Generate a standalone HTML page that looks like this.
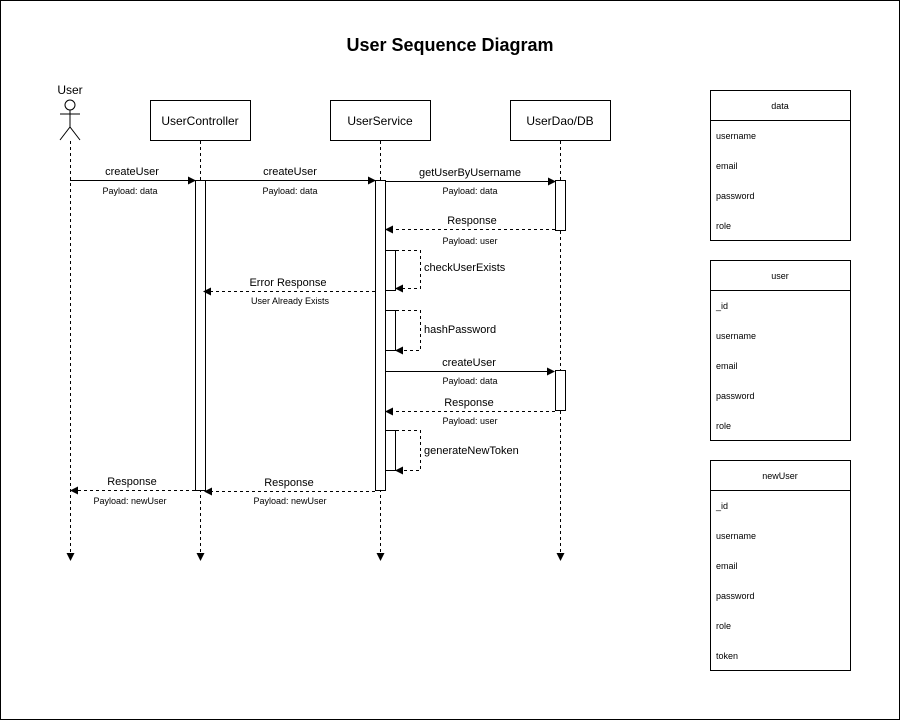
<!DOCTYPE html><html><head><style>body{margin:0;background:#fff}svg{display:block}text{font-family:"Liberation Sans",sans-serif;fill:#000}</style></head><body>
<svg width="901" height="721" viewBox="0 0 901 721" xmlns="http://www.w3.org/2000/svg">
<defs><marker id="a" markerWidth="8" markerHeight="8" refX="7" refY="4" orient="auto" markerUnits="userSpaceOnUse"><path d="M0,0 L8,4 L0,8z" fill="#000"/></marker></defs>
<rect x="0.5" y="0.5" width="899" height="719" fill="#fff" stroke="#000"/>
<text x="450" y="51" font-size="18" font-weight="bold" text-anchor="middle">User Sequence Diagram</text>
<!-- actor -->
<text x="70" y="94" font-size="12" text-anchor="middle">User</text>
<g stroke="#000" fill="none"><circle cx="70" cy="105" r="5"/><path d="M70,110V127M60,114H80M60,140L70,127L80,140"/></g>
<g fill="#fff" stroke="#000"><rect x="150.5" y="100.5" width="100" height="40"/><rect x="330.5" y="100.5" width="100" height="40"/><rect x="510.5" y="100.5" width="100" height="40"/></g>
<g font-size="12" text-anchor="middle"><text x="200" y="125">UserController</text><text x="380" y="125">UserService</text><text x="560" y="125">UserDao/DB</text></g>
<g stroke="#000" stroke-dasharray="3,3" fill="none" marker-end="url(#a)"><path d="M70.5,141V560"/><path d="M200.5,141V560"/><path d="M380.5,141V560"/><path d="M560.5,141V560"/></g>
<g fill="#fff" stroke="#000"><rect x="195.5" y="180.5" width="10" height="310"/><rect x="375.5" y="180.5" width="10" height="310"/><rect x="555.5" y="180.5" width="10" height="50"/><rect x="555.5" y="370.5" width="10" height="40"/><rect x="385.5" y="250.5" width="10" height="40"/><rect x="385.5" y="310.5" width="10" height="40"/><rect x="385.5" y="430.5" width="10" height="40"/></g>
<g stroke="#000" fill="none" marker-end="url(#a)">
<path d="M70,180.5H195"/><path d="M205,180.5H375"/><path d="M385,181.5H555"/><path d="M385,371.5H554"/>
</g>
<g stroke="#000" fill="none" stroke-dasharray="3,3" marker-end="url(#a)">
<path d="M555,229.5H386"/><path d="M375,291.5H204"/><path d="M555,411.5H386"/><path d="M375,491.5H205"/><path d="M195,490.5H71"/>
<path d="M396,250.5H420.5V288.5H396"/><path d="M396,310.5H420.5V350.5H396"/><path d="M396,430.5H420.5V470.5H396"/>
</g>
<g font-size="11" text-anchor="middle">
<text x="132" y="175">createUser</text><text x="290" y="175">createUser</text><text x="470" y="176">getUserByUsername</text><text x="472" y="224">Response</text><text x="288" y="286">Error Response</text><text x="469" y="366">createUser</text><text x="469" y="406">Response</text><text x="289" y="486">Response</text><text x="132" y="485">Response</text>
</g>
<g font-size="11"><text x="424" y="271">checkUserExists</text><text x="424" y="333">hashPassword</text><text x="424" y="454">generateNewToken</text></g>
<g font-size="9" text-anchor="middle">
<text x="130" y="194">Payload: data</text><text x="290" y="194">Payload: data</text><text x="470" y="194">Payload: data</text><text x="470" y="244">Payload: user</text><text x="290" y="304">User Already Exists</text><text x="470" y="384">Payload: data</text><text x="470" y="424">Payload: user</text><text x="290" y="504">Payload: newUser</text><text x="130" y="504">Payload: newUser</text>
</g>
<g fill="#fff" stroke="#000"><rect x="710.5" y="90.5" width="140" height="150"/><rect x="710.5" y="260.5" width="140" height="180"/><rect x="710.5" y="460.5" width="140" height="210"/></g>
<g stroke="#000"><path d="M710,120.5H850M710,290.5H850M710,490.5H850"/></g>
<g font-size="9" text-anchor="middle"><text x="780" y="109">data</text><text x="780" y="279">user</text><text x="780" y="479">newUser</text></g>
<g font-size="9">
<text x="716" y="139">username</text><text x="716" y="169">email</text><text x="716" y="199">password</text><text x="716" y="229">role</text>
<text x="716" y="309">_id</text><text x="716" y="339">username</text><text x="716" y="369">email</text><text x="716" y="399">password</text><text x="716" y="429">role</text>
<text x="716" y="509">_id</text><text x="716" y="539">username</text><text x="716" y="569">email</text><text x="716" y="599">password</text><text x="716" y="629">role</text><text x="716" y="659">token</text>
</g>
</svg></body></html>
